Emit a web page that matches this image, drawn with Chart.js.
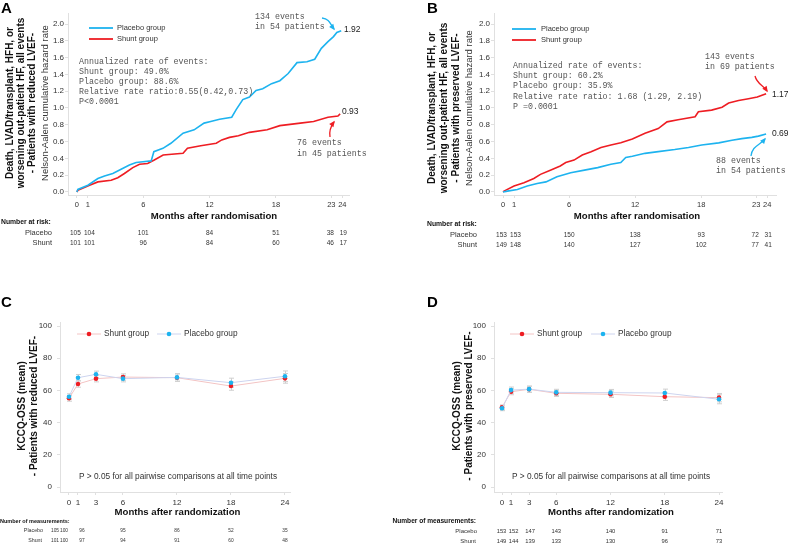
<!DOCTYPE html>
<html><head><meta charset="utf-8">
<script src="https://cdn.jsdelivr.net/npm/chart.js@4.4.1/dist/chart.umd.min.js"></script>
<style>
html,body{margin:0;padding:0;background:#fff;}
#wrap{position:relative;width:788px;height:546px;overflow:hidden;background:#fff;}
canvas{position:absolute;left:0;top:0;}
</style></head><body>
<div id="wrap">
<canvas id="cA" width="788" height="546"></canvas>
<canvas id="cB" width="788" height="546"></canvas>
<canvas id="cC" width="788" height="546"></canvas>
<canvas id="cD" width="788" height="546"></canvas>
</div>
<script>
// ---------------- DATA ----------------
const kmTicks = [0, 1, 6, 12, 18, 23, 24];
const hazardTicks = [0, 0.2, 0.4, 0.6, 0.8, 1.0, 1.2, 1.4, 1.6, 1.8, 2.0];

// Panel A (reduced LVEF) Nelson-Aalen cumulative hazard
const A_placeboMonths = [0,0.09,1.0,1.9,2.5,3.25,4.0,4.75,5.36,5.97,6.72,6.96,7.78,8.5,9.6,10.6,11.5,12.1,12.9,14.0,14.4,15.0,15.6,16.2,16.8,17.6,18.35,19.1,19.9,20.8,21.5,22.1,22.7,23.2,23.5,23.9];
const A_placeboHazard = [0,0.03,0.08,0.16,0.19,0.22,0.27,0.32,0.35,0.36,0.37,0.48,0.52,0.58,0.70,0.74,0.82,0.84,0.865,0.89,0.98,1.10,1.13,1.21,1.23,1.29,1.325,1.41,1.54,1.55,1.58,1.71,1.79,1.85,1.90,1.92];
const A_shuntMonths = [0,0.09,1.15,1.9,3.1,3.7,4.3,5.06,5.67,6.4,7.0,7.8,9.6,10.0,11.2,12.6,13.1,13.8,14.6,15.6,17.2,18.35,20.2,21.4,22.7,23.6,23.8];
const A_shuntHazard = [0,0.02,0.08,0.12,0.14,0.17,0.22,0.29,0.33,0.34,0.38,0.44,0.46,0.52,0.55,0.58,0.62,0.65,0.67,0.71,0.74,0.79,0.82,0.84,0.89,0.905,0.93];
const A_riskPlacebo = [105,104,101,84,51,38,19];
const A_riskShunt = [101,101,96,84,60,46,17];

// Panel B (preserved LVEF)
const B_shuntMonths = [0,0.09,1.0,1.9,2.8,3.4,4.3,5.2,5.7,6.45,7.2,8.0,8.9,9.8,10.7,11.75,12.9,14.1,14.9,15.9,17.45,17.75,18.95,19.9,20.5,21.4,22.3,23.1,23.9];
const B_shuntHazard = [0,0.01,0.07,0.11,0.16,0.21,0.26,0.31,0.35,0.38,0.44,0.48,0.53,0.56,0.585,0.63,0.70,0.755,0.835,0.86,0.895,0.955,0.975,1.01,1.06,1.09,1.11,1.13,1.17];
const B_placeboMonths = [0,0.4,1.3,2.2,3.1,3.9,4.9,6.15,7.4,8.6,9.8,10.7,11.15,11.75,12.9,14.1,15.6,16.85,18.05,19.6,20.8,21.7,22.6,23.2,23.9];
const B_placeboHazard = [0,0.01,0.03,0.07,0.10,0.12,0.18,0.23,0.26,0.29,0.33,0.35,0.41,0.425,0.46,0.48,0.505,0.53,0.56,0.585,0.615,0.635,0.65,0.665,0.69];
const B_riskPlacebo = [153,153,150,138,93,72,31];
const B_riskShunt = [149,148,140,127,102,77,41];

// Panels C / D: KCCQ-OSS mean and error
const kccqMonths = [0, 1, 3, 6, 12, 18, 24];
const kccqTicks = [0, 20, 40, 60, 80, 100];
const C_shuntMean = [55.1,64.0,67.3,68.3,67.9,62.7,67.5];
const C_shuntErr = [1.8,2.0,2.0,2.0,2.3,2.6,3.0];
const C_placeboMean = [56.1,67.9,70.0,67.3,68.1,64.8,68.8];
const C_placeboErr = [1.8,2.0,2.0,2.0,2.3,2.8,3.3];
const C_measPlacebo = [105,100,96,95,86,52,35];
const C_measShunt = [101,100,97,94,91,60,48];
const D_shuntMean = [49.5,59.2,60.7,58.2,57.6,56.1,55.5];
const D_shuntErr = [1.5,1.9,1.9,1.9,2.0,2.3,2.6];
const D_placeboMean = [48.9,60.2,60.8,58.8,58.6,58.4,54.5];
const D_placeboErr = [1.5,1.9,1.9,1.9,2.0,2.4,2.8];
const D_measPlacebo = [153,152,147,143,140,91,71];
const D_measShunt = [149,144,139,133,130,96,73];

// ---------------- STYLE / HELPERS ----------------
const SANS = '"Liberation Sans", Arial, sans-serif';
const MONO = '"Liberation Mono", "Courier New", monospace';
const CYAN = '#1db3ef', RED = '#ee1d23';
const AXIS = '#e0e0e0';

function pts(xs, ys){ return xs.map((x,i)=>({x:x, y:ys[i]})); }

function T(ctx, s, x, y, size, o){
  o = o || {};
  ctx.save();
  ctx.font = (o.bold ? 'bold ' : '') + size + 'px ' + (o.mono ? MONO : SANS);
  ctx.fillStyle = o.color || '#222';
  ctx.textAlign = o.align || 'left';
  ctx.textBaseline = 'middle';
  if (o.rot){ ctx.translate(x, y); ctx.rotate(-Math.PI/2); ctx.fillText(s, 0, 0); }
  else ctx.fillText(s, x, y);
  ctx.restore();
}

function arrow(ctx, p, color){
  ctx.save();
  ctx.strokeStyle = color; ctx.fillStyle = color; ctx.lineWidth = 1.3;
  ctx.beginPath(); ctx.moveTo(p[0],p[1]); ctx.bezierCurveTo(p[2],p[3],p[4],p[5],p[6],p[7]); ctx.stroke();
  const a = Math.atan2(p[7]-p[5], p[6]-p[4]);
  const L = 4.5, W = 2.6;
  ctx.beginPath();
  ctx.moveTo(p[6]+Math.cos(a)*1.5, p[7]+Math.sin(a)*1.5);
  ctx.lineTo(p[6]-Math.cos(a)*L - Math.sin(a)*W, p[7]-Math.sin(a)*L + Math.cos(a)*W);
  ctx.lineTo(p[6]-Math.cos(a)*L + Math.sin(a)*W, p[7]-Math.sin(a)*L - Math.cos(a)*W);
  ctx.closePath(); ctx.fill();
  ctx.restore();
}

function scale(axis, min, max, ticks, size, pad, fmt){
  return {
    type:'linear', min:min, max:max,
    afterBuildTicks: s => { s.ticks = ticks.map(v => ({value:v})); },
    afterFit: s => { if (axis === 'x') s.height = 20; else s.width = 30; },
    grid: {drawOnChartArea:false, color:AXIS, tickLength:3, lineWidth:1},
    border: {color:AXIS, width:1},
    ticks: {autoSkip:false, maxRotation:0, minRotation:0, color:'#333', padding:pad,
            font:{family:SANS, size:size}, callback: fmt || (v => String(v))}
  };
}

function baseOptions(padding, xs, ys){
  return {
    responsive:false, animation:false, events:[],
    layout:{padding:padding},
    plugins:{legend:{display:false}, tooltip:{enabled:false}},
    scales:{x:xs, y:ys}
  };
}

// ---------------- PANEL A ----------------
new Chart(document.getElementById('cA'), {
  type:'line',
  data:{datasets:[
    {label:'Placebo group', data:pts(A_placeboMonths, A_placeboHazard), borderColor:CYAN, borderWidth:1.6, pointRadius:0, tension:0, fill:false},
    {label:'Shunt group', data:pts(A_shuntMonths, A_shuntHazard), borderColor:RED, borderWidth:1.6, pointRadius:0, tension:0, fill:false}
  ]},
  options: baseOptions({left:38, top:13, right:439, bottom:331},
    scale('x', -0.8, 24.6, kmTicks, 7.5, 2),
    scale('y', -0.036, 2.131, hazardTicks, 8, 1, v => v.toFixed(1))),
  plugins:[{id:'extraA', afterDraw(chart){
    const c = chart.ctx, x = chart.scales.x;
    T(c, 'A', 1, 9, 15, {bold:true, color:'#000'});
    T(c, 'Death, LVAD/transplant, HFH, or', 10, 103, 10, {bold:true, rot:true, align:'center', color:'#111'});
    T(c, 'worsening out-patient HF, all events', 21, 103, 10, {bold:true, rot:true, align:'center', color:'#111'});
    T(c, '- Patients with reduced LVEF-', 32, 103, 10, {bold:true, rot:true, align:'center', color:'#111'});
    T(c, 'Nelson-Aalen cumulative hazard rate', 45, 103, 9.5, {rot:true, align:'center', color:'#333'});
    c.save(); c.lineWidth = 1.8;
    c.strokeStyle = CYAN; c.beginPath(); c.moveTo(89,28); c.lineTo(113,28); c.stroke();
    c.strokeStyle = RED; c.beginPath(); c.moveTo(89,39); c.lineTo(113,39); c.stroke();
    c.restore();
    T(c, 'Placebo group', 117, 28, 7.5, {color:'#333'});
    T(c, 'Shunt group', 117, 39, 7.5, {color:'#333'});
    const mono = {mono:true, color:'#555'};
    T(c, 'Annualized rate of events:', 79, 62, 8.3, mono);
    T(c, 'Shunt group: 49.0%', 79, 72, 8.3, mono);
    T(c, 'Placebo group: 88.6%', 79, 82, 8.3, mono);
    T(c, 'Relative rate ratio:0.55(0.42,0.73)', 79, 92, 8.3, mono);
    T(c, 'P<0.0001', 79, 102, 8.3, mono);
    T(c, '134 events', 255, 17, 8.3, mono);
    T(c, 'in 54 patients', 255, 27, 8.3, mono);
    T(c, '76 events', 297, 143, 8.3, mono);
    T(c, 'in 45 patients', 297, 153.5, 8.3, mono);
    arrow(c, [322,18, 330,19, 330,24, 334,29], CYAN);
    arrow(c, [330,137, 329,131, 331,126, 334,122], RED);
    T(c, '1.92', 344, 29.5, 8.5, {color:'#222'});
    T(c, '0.93', 342, 111.5, 8.5, {color:'#222'});
    T(c, 'Months after randomisation', 214, 216, 9.6, {bold:true, align:'center', color:'#111'});
    T(c, 'Number at risk:', 1, 222, 6.8, {bold:true, color:'#111'});
    T(c, 'Placebo', 52, 233, 7.5, {align:'right', color:'#333'});
    T(c, 'Shunt', 52, 243, 7.5, {align:'right', color:'#333'});
    const nudge = [-1.5, 1.5, 0, 0, 0, -1, 1];
    kmTicks.forEach((m,i) => {
      const px = x.getPixelForValue(m) + nudge[i];
      T(c, String(A_riskPlacebo[i]), px, 233, 6.5, {align:'center', color:'#333'});
      T(c, String(A_riskShunt[i]), px, 243, 6.5, {align:'center', color:'#333'});
    });
  }}]
});

// ---------------- PANEL B ----------------
new Chart(document.getElementById('cB'), {
  type:'line',
  data:{datasets:[
    {label:'Placebo group', data:pts(B_placeboMonths, B_placeboHazard), borderColor:CYAN, borderWidth:1.6, pointRadius:0, tension:0, fill:false},
    {label:'Shunt group', data:pts(B_shuntMonths, B_shuntHazard), borderColor:RED, borderWidth:1.6, pointRadius:0, tension:0, fill:false}
  ]},
  options: baseOptions({left:464, top:13, right:12, bottom:331},
    scale('x', -0.82, 24.8, kmTicks, 7.5, 2),
    scale('y', -0.036, 2.131, hazardTicks, 8, 1, v => v.toFixed(1))),
  plugins:[{id:'extraB', afterDraw(chart){
    const c = chart.ctx, x = chart.scales.x;
    T(c, 'B', 427, 9, 15, {bold:true, color:'#000'});
    T(c, 'Death, LVAD/transplant, HFH, or', 432, 108, 10, {bold:true, rot:true, align:'center', color:'#111'});
    T(c, 'worsening out-patient HF, all events', 444, 108, 10, {bold:true, rot:true, align:'center', color:'#111'});
    T(c, '- Patients with preserved LVEF-', 456, 108, 10, {bold:true, rot:true, align:'center', color:'#111'});
    T(c, 'Nelson-Aalen cumulative hazard rate', 469, 108, 9.5, {rot:true, align:'center', color:'#333'});
    c.save(); c.lineWidth = 1.8;
    c.strokeStyle = CYAN; c.beginPath(); c.moveTo(512,29); c.lineTo(536,29); c.stroke();
    c.strokeStyle = RED; c.beginPath(); c.moveTo(512,40); c.lineTo(536,40); c.stroke();
    c.restore();
    T(c, 'Placebo group', 541, 29, 7.5, {color:'#333'});
    T(c, 'Shunt group', 541, 40, 7.5, {color:'#333'});
    const mono = {mono:true, color:'#555'};
    T(c, 'Annualized rate of events:', 513, 66, 8.3, mono);
    T(c, 'Shunt group: 60.2%', 513, 76, 8.3, mono);
    T(c, 'Placebo group: 35.9%', 513, 86, 8.3, mono);
    T(c, 'Relative rate ratio: 1.68 (1.29, 2.19)', 513, 96.5, 8.3, mono);
    T(c, 'P =0.0001', 513, 107, 8.3, mono);
    T(c, '143 events', 705, 57, 8.3, mono);
    T(c, 'in 69 patients', 705, 66.5, 8.3, mono);
    T(c, '88 events', 716, 161, 8.3, mono);
    T(c, 'in 54 patients', 716, 171, 8.3, mono);
    arrow(c, [755,76, 757,84, 763,85, 767,91], RED);
    arrow(c, [751,156, 752,146, 760,145, 765,139], CYAN);
    T(c, '1.17', 772, 94.5, 8.5, {color:'#222'});
    T(c, '0.69', 772, 133.5, 8.5, {color:'#222'});
    T(c, 'Months after randomisation', 637, 216.5, 9.6, {bold:true, align:'center', color:'#111'});
    T(c, 'Number at risk:', 427, 224, 6.8, {bold:true, color:'#111'});
    T(c, 'Placebo', 477, 235, 7.5, {align:'right', color:'#333'});
    T(c, 'Shunt', 477, 245, 7.5, {align:'right', color:'#333'});
    const nudge = [-1.5, 1.5, 0, 0, 0, -1, 1];
    kmTicks.forEach((m,i) => {
      const px = x.getPixelForValue(m) + nudge[i];
      T(c, String(B_riskPlacebo[i]), px, 235, 6.5, {align:'center', color:'#333'});
      T(c, String(B_riskShunt[i]), px, 245, 6.5, {align:'center', color:'#333'});
    });
  }}]
});

// ---------------- PANELS C / D ----------------
function errBars(chart, sets){
  const c = chart.ctx, xs = chart.scales.x, ys = chart.scales.y;
  c.save(); c.strokeStyle = '#cfcfcf'; c.lineWidth = 1;
  sets.forEach(s => {
    kccqMonths.forEach((m,i) => {
      const px = Math.round(xs.getPixelForValue(m)) + 0.5;
      const y1 = ys.getPixelForValue(s.mean[i] - s.err[i]);
      const y2 = ys.getPixelForValue(s.mean[i] + s.err[i]);
      c.beginPath();
      c.moveTo(px, y1); c.lineTo(px, y2);
      c.moveTo(px-2.5, y1); c.lineTo(px+2.5, y1);
      c.moveTo(px-2.5, y2); c.lineTo(px+2.5, y2);
      c.stroke();
    });
  });
  c.restore();
}
function legendKCCQ(c, x0, x1){
  c.save(); c.lineWidth = 1;
  c.strokeStyle = '#f3c4c4'; c.beginPath(); c.moveTo(x0, 334); c.lineTo(x0+24, 334); c.stroke();
  c.fillStyle = RED; c.beginPath(); c.arc(x0+12, 334, 2.3, 0, Math.PI*2); c.fill();
  c.strokeStyle = '#cdd4ef'; c.beginPath(); c.moveTo(x1, 334); c.lineTo(x1+24, 334); c.stroke();
  c.fillStyle = CYAN; c.beginPath(); c.arc(x1+12, 334, 2.3, 0, Math.PI*2); c.fill();
  c.restore();
  T(c, 'Shunt group', x0+27, 334, 8.3, {color:'#333'});
  T(c, 'Placebo group', x1+27, 334, 8.3, {color:'#333'});
}
function kccqDatasets(sMean, pMean){
  return [
    {label:'Placebo group', data:pts(kccqMonths, pMean), borderColor:'#cdd4ef', borderWidth:1,
     pointRadius:2.3, pointBackgroundColor:CYAN, pointBorderWidth:0, tension:0, fill:false},
    {label:'Shunt group', data:pts(kccqMonths, sMean), borderColor:'#f3c4c4', borderWidth:1,
     pointRadius:2.3, pointBackgroundColor:RED, pointBorderWidth:0, tension:0, fill:false}
  ];
}

new Chart(document.getElementById('cC'), {
  type:'line',
  data:{datasets:kccqDatasets(C_shuntMean, C_placeboMean)},
  options: baseOptions({left:30, top:322, right:498, bottom:34},
    scale('x', -1.0, 24.56, kccqMonths, 8, 2.5),
    scale('y', -3.1, 102.5, kccqTicks, 8, 5)),
  plugins:[{id:'extraC',
    beforeDatasetsDraw(chart){ errBars(chart, [{mean:C_placeboMean, err:C_placeboErr},{mean:C_shuntMean, err:C_shuntErr}]); },
    afterDraw(chart){
      const c = chart.ctx, x = chart.scales.x;
      T(c, 'C', 1, 303, 15, {bold:true, color:'#000'});
      T(c, 'KCCQ-OSS (mean)', 22, 406, 10, {bold:true, rot:true, align:'center', color:'#111'});
      T(c, '- Patients with reduced LVEF-', 34, 406, 10, {bold:true, rot:true, align:'center', color:'#111'});
      legendKCCQ(c, 77, 157);
      T(c, 'P > 0.05 for all pairwise comparisons at all time points', 79, 477, 8.3, {color:'#333'});
      T(c, 'Months after randomization', 177.5, 512, 9.6, {bold:true, align:'center', color:'#111'});
      T(c, 'Number of measurements:', 0, 521, 5.5, {bold:true, color:'#111'});
      T(c, 'Placebo', 43, 531, 5.3, {align:'right', color:'#333'});
      T(c, 'Shunt', 42, 541, 5.3, {align:'right', color:'#333'});
      const nudge = [-14, -14, -14, 0, 0, 0, 0];
      kccqMonths.forEach((m,i) => {
        const px = x.getPixelForValue(m) + nudge[i];
        T(c, String(C_measPlacebo[i]), px, 531, 4.8, {align:'center', color:'#333'});
        T(c, String(C_measShunt[i]), px, 541, 4.8, {align:'center', color:'#333'});
      });
    }}]
});

new Chart(document.getElementById('cD'), {
  type:'line',
  data:{datasets:kccqDatasets(D_shuntMean, D_placeboMean)},
  options: baseOptions({left:464, top:322, right:66, bottom:34},
    scale('x', -0.885, 24.33, kccqMonths, 8, 2.5),
    scale('y', -3.1, 102.5, kccqTicks, 8, 5)),
  plugins:[{id:'extraD',
    beforeDatasetsDraw(chart){ errBars(chart, [{mean:D_placeboMean, err:D_placeboErr},{mean:D_shuntMean, err:D_shuntErr}]); },
    afterDraw(chart){
      const c = chart.ctx, x = chart.scales.x;
      T(c, 'D', 427, 303, 15, {bold:true, color:'#000'});
      T(c, 'KCCQ-OSS (mean)', 457, 406, 10, {bold:true, rot:true, align:'center', color:'#111'});
      T(c, '- Patients with preserved LVEF-', 469, 406, 10, {bold:true, rot:true, align:'center', color:'#111'});
      legendKCCQ(c, 510, 591);
      T(c, 'P > 0.05 for all pairwise comparisons at all time points', 512, 477, 8.3, {color:'#333'});
      T(c, 'Months after randomization', 611, 512, 9.6, {bold:true, align:'center', color:'#111'});
      T(c, 'Number of measurements:', 476, 521, 6.6, {bold:true, align:'right', color:'#111'});
      T(c, 'Placebo', 477, 531, 6, {align:'right', color:'#333'});
      T(c, 'Shunt', 476, 541, 6, {align:'right', color:'#333'});
      const nudge = [-0.5, 2.5, 1, 0, 0, 0, 0];
      kccqMonths.forEach((m,i) => {
        const px = x.getPixelForValue(m) + nudge[i];
        T(c, String(D_measPlacebo[i]), px, 531, 5.8, {align:'center', color:'#333'});
        T(c, String(D_measShunt[i]), px, 541, 5.8, {align:'center', color:'#333'});
      });
    }}]
});
</script>
</body></html>
